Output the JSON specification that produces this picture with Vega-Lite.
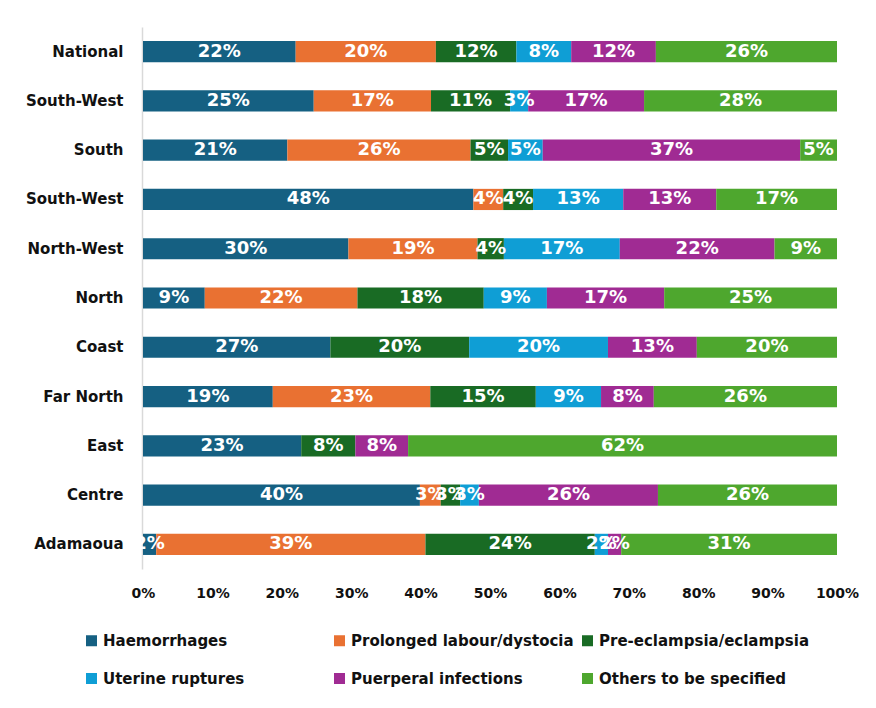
{
  "$schema": "https://vega.github.io/schema/vega-lite/v6.json",
  "width": 694,
  "height": 542,
  "autosize": {"type": "none"},
  "padding": {"left": 143, "top": 27, "right": 39, "bottom": 139},
  "background": "white",
  "config": {
    "view": {"stroke": null},
    "font": "DejaVu Sans"
  },
  "data": {
    "values": [
      {"region": "National", "cause": "Haemorrhages", "share": 0.220},
      {"region": "National", "cause": "Prolonged labour/dystocia", "share": 0.202},
      {"region": "National", "cause": "Pre-eclampsia/eclampsia", "share": 0.116},
      {"region": "National", "cause": "Uterine ruptures", "share": 0.079},
      {"region": "National", "cause": "Puerperal infections", "share": 0.122},
      {"region": "National", "cause": "Others to be specified", "share": 0.261},
      {"region": "South-West", "cause": "Haemorrhages", "share": 0.246},
      {"region": "South-West", "cause": "Prolonged labour/dystocia", "share": 0.169},
      {"region": "South-West", "cause": "Pre-eclampsia/eclampsia", "share": 0.114},
      {"region": "South-West", "cause": "Uterine ruptures", "share": 0.026},
      {"region": "South-West", "cause": "Puerperal infections", "share": 0.167},
      {"region": "South-West", "cause": "Others to be specified", "share": 0.278},
      {"region": "South", "cause": "Haemorrhages", "share": 0.208},
      {"region": "South", "cause": "Prolonged labour/dystocia", "share": 0.264},
      {"region": "South", "cause": "Pre-eclampsia/eclampsia", "share": 0.054},
      {"region": "South", "cause": "Uterine ruptures", "share": 0.050},
      {"region": "South", "cause": "Puerperal infections", "share": 0.371},
      {"region": "South", "cause": "Others to be specified", "share": 0.053},
      {"region": "South-West ", "cause": "Haemorrhages", "share": 0.476},
      {"region": "South-West ", "cause": "Prolonged labour/dystocia", "share": 0.043},
      {"region": "South-West ", "cause": "Pre-eclampsia/eclampsia", "share": 0.043},
      {"region": "South-West ", "cause": "Uterine ruptures", "share": 0.130},
      {"region": "South-West ", "cause": "Puerperal infections", "share": 0.134},
      {"region": "South-West ", "cause": "Others to be specified", "share": 0.174},
      {"region": "North-West", "cause": "Haemorrhages", "share": 0.296},
      {"region": "North-West", "cause": "Prolonged labour/dystocia", "share": 0.186},
      {"region": "North-West", "cause": "Pre-eclampsia/eclampsia", "share": 0.038},
      {"region": "North-West", "cause": "Uterine ruptures", "share": 0.167},
      {"region": "North-West", "cause": "Puerperal infections", "share": 0.223},
      {"region": "North-West", "cause": "Others to be specified", "share": 0.090},
      {"region": "North", "cause": "Haemorrhages", "share": 0.089},
      {"region": "North", "cause": "Prolonged labour/dystocia", "share": 0.220},
      {"region": "North", "cause": "Pre-eclampsia/eclampsia", "share": 0.182},
      {"region": "North", "cause": "Uterine ruptures", "share": 0.091},
      {"region": "North", "cause": "Puerperal infections", "share": 0.169},
      {"region": "North", "cause": "Others to be specified", "share": 0.249},
      {"region": "Coast", "cause": "Haemorrhages", "share": 0.270},
      {"region": "Coast", "cause": "Pre-eclampsia/eclampsia", "share": 0.200},
      {"region": "Coast", "cause": "Uterine ruptures", "share": 0.200},
      {"region": "Coast", "cause": "Puerperal infections", "share": 0.128},
      {"region": "Coast", "cause": "Others to be specified", "share": 0.202},
      {"region": "Far North", "cause": "Haemorrhages", "share": 0.187},
      {"region": "Far North", "cause": "Prolonged labour/dystocia", "share": 0.227},
      {"region": "Far North", "cause": "Pre-eclampsia/eclampsia", "share": 0.152},
      {"region": "Far North", "cause": "Uterine ruptures", "share": 0.094},
      {"region": "Far North", "cause": "Puerperal infections", "share": 0.076},
      {"region": "Far North", "cause": "Others to be specified", "share": 0.264},
      {"region": "East", "cause": "Haemorrhages", "share": 0.228},
      {"region": "East", "cause": "Pre-eclampsia/eclampsia", "share": 0.078},
      {"region": "East", "cause": "Puerperal infections", "share": 0.076},
      {"region": "East", "cause": "Others to be specified", "share": 0.618},
      {"region": "Centre", "cause": "Haemorrhages", "share": 0.399},
      {"region": "Centre", "cause": "Prolonged labour/dystocia", "share": 0.030},
      {"region": "Centre", "cause": "Pre-eclampsia/eclampsia", "share": 0.028},
      {"region": "Centre", "cause": "Uterine ruptures", "share": 0.027},
      {"region": "Centre", "cause": "Puerperal infections", "share": 0.258},
      {"region": "Centre", "cause": "Others to be specified", "share": 0.258},
      {"region": "Adamaoua", "cause": "Haemorrhages", "share": 0.019},
      {"region": "Adamaoua", "cause": "Prolonged labour/dystocia", "share": 0.388},
      {"region": "Adamaoua", "cause": "Pre-eclampsia/eclampsia", "share": 0.244},
      {"region": "Adamaoua", "cause": "Uterine ruptures", "share": 0.019},
      {"region": "Adamaoua", "cause": "Puerperal infections", "share": 0.019},
      {"region": "Adamaoua", "cause": "Others to be specified", "share": 0.311}
    ]
  },
  "transform": [
    {"stack": "share", "groupby": ["region"], "as": ["s0", "s1"]}
  ],
  "encoding": {
    "y": {
      "field": "region",
      "type": "nominal",
      "sort": ["National", "South-West", "South", "South-West ", "North-West", "North", "Coast", "Far North", "East", "Centre", "Adamaoua"],
      "scale": {"paddingInner": 0.57, "paddingOuter": 0.285},
      "axis": {
        "title": null,
        "ticks": false,
        "labelPadding": 19,
        "labelFont": "DejaVu Sans",
        "labelFontSize": 15,
        "labelFontWeight": "bold",
        "labelColor": "#111111",
        "domainColor": "#D9D9D9",
        "domainWidth": 1.5,
        "offset": 1
      }
    },
    "x": {
      "field": "s0",
      "type": "quantitative",
      "scale": {"domain": [0, 1], "nice": false},
      "axis": {
        "title": null,
        "format": ".0%",
        "values": [0, 0.1, 0.2, 0.3, 0.4, 0.5, 0.6, 0.7, 0.8, 0.9, 1],
        "grid": false,
        "domain": false,
        "ticks": false,
        "labelPadding": 17,
        "labelFont": "DejaVu Sans",
        "labelFontSize": 14,
        "labelFontWeight": "bold",
        "labelColor": "#111111",
        "labelFlush": false
      }
    }
  },
  "layer": [
    {
      "mark": {"type": "bar"},
      "encoding": {
        "x2": {"field": "s1"},
        "color": {
          "field": "cause",
          "type": "nominal",
          "scale": {
            "domain": ["Haemorrhages", "Prolonged labour/dystocia", "Pre-eclampsia/eclampsia", "Uterine ruptures", "Puerperal infections", "Others to be specified"],
            "range": ["#156082", "#E97132", "#196B24", "#0F9ED5", "#A02B93", "#4EA72E"]
          },
          "legend": {
            "title": null,
            "orient": "none",
            "legendX": -59,
            "legendY": 606,
            "direction": "horizontal",
            "columns": 3,
            "gridAlign": "all",
            "columnPadding": 6,
            "rowPadding": 22,
            "symbolType": "square",
            "symbolSize": 121,
            "symbolStrokeWidth": 0,
            "labelOffset": 4,
            "labelFont": "DejaVu Sans",
            "labelFontSize": 15,
            "labelFontWeight": "bold",
            "labelColor": "#111111",
            "labelLimit": 300
          }
        }
      }
    },
    {
      "mark": {
        "type": "text",
        "color": "white",
        "font": "DejaVu Sans",
        "fontSize": 18,
        "fontWeight": "bold",
        "baseline": "middle",
        "align": "center",
        "dx": {"expr": "(scale('x', datum.s1) - scale('x', datum.s0)) / 2"}
      },
      "encoding": {
        "text": {"field": "share", "type": "quantitative", "format": ".0%"}
      }
    }
  ]
}
